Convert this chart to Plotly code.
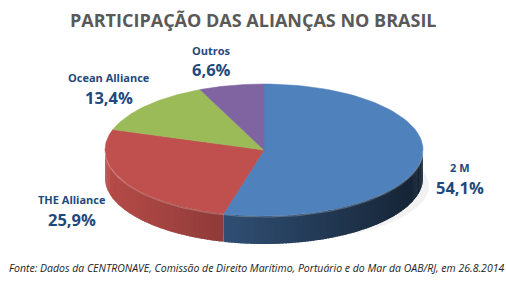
import numpy as np
import plotly.graph_objects as go

# ---- data ----
categories = ["2 M", "THE Alliance", "Ocean Alliance", "Outros"]
shares = [54.1, 25.9, 13.4, 6.6]
labels_pct = ["54,1%", "25,9%", "13,4%", "6,6%"]
colors = ["#4F81BD", "#C0504D", "#9BBB59", "#8064A2"]

title = "PARTICIPAÇÃO DAS ALIANÇAS NO BRASIL"
source = "Fonte: Dados da CENTRONAVE, Comissão de Direito Marítimo, Portuário e do Mar da OAB/RJ, em 26.8.2014"

# ---- geometry of the tilted pie (pixel space) ----
W, H = 506, 290
cx, cy, a, b, depth = 264, 150, 159, 66, 28


def pt(t):
    return cx + a * np.sin(t), cy - b * np.cos(t)


def hex2rgb(h):
    h = h.lstrip("#")
    return [int(h[i:i + 2], 16) for i in (0, 2, 4)]


def shade(h, f):
    r, g, bb = hex2rgb(h)
    return "rgb(%d,%d,%d)" % (min(255, r * f), min(255, g * f), min(255, bb * f))


fig = go.Figure()

# soft shadow
for k, op in [(1.0, 0.05), (0.93, 0.06), (0.86, 0.07)]:
    tt = np.linspace(0, 2 * np.pi, 120)
    fig.add_trace(go.Scatter(
        x=cx + 6 + a * k * np.sin(tt), y=cy + depth + 8 + b * 0.85 * k * np.cos(tt),
        fill="toself", mode="lines", line=dict(width=0),
        fillcolor="rgba(0,0,0,%.2f)" % op, hoverinfo="skip", showlegend=False))

total = sum(shares)
bounds = np.concatenate([[0], np.cumsum(shares) / total * 2 * np.pi])

# side walls (front half: t in [pi/2, 3pi/2])
for i, col in enumerate(colors):
    t0, t1 = max(bounds[i], np.pi / 2), min(bounds[i + 1], 3 * np.pi / 2)
    if t1 <= t0:
        continue
    n = max(2, int((t1 - t0) / 0.02))
    ts = np.linspace(t0, t1, n + 1)
    base_f = 0.95 if i != 0 else 0.82
    for j in range(n):
        ta = ts[j]
        tb = min(ts[j + 1] + 0.012, t1)
        seg = np.linspace(ta, tb, 4)
        xs, ys = pt(seg)
        u = ((xs[0] + xs[-1]) / 2 - (cx - a)) / (2 * a)
        f = base_f - 0.55 * u
        fig.add_trace(go.Scatter(
            x=np.concatenate([xs, xs[::-1], xs[:1]]),
            y=np.concatenate([ys, ys[::-1] + depth, ys[:1]]),
            fill="toself", mode="lines", line=dict(width=0),
            fillcolor=shade(col, f), hoverinfo="skip", showlegend=False))

# top faces
for i, col in enumerate(colors):
    ts = np.linspace(bounds[i], bounds[i + 1], 80)
    xs, ys = pt(ts)
    fig.add_trace(go.Scatter(
        x=np.concatenate([[cx], xs, [cx]]), y=np.concatenate([[cy], ys, [cy]]),
        fill="toself", mode="lines", line=dict(width=0.5, color=col),
        fillcolor=col, hoverinfo="text", text=categories[i], showlegend=False))

# rim highlight on front edge
ts = np.linspace(np.pi / 2, 3 * np.pi / 2, 100)
xs, ys = pt(ts)
fig.add_trace(go.Scatter(x=xs, y=ys + 1, mode="lines",
                         line=dict(width=1.2, color="rgba(255,255,255,0.22)"),
                         hoverinfo="skip", showlegend=False))

# ---- labels ----
lab_pos = [(460, 167, 187), (72, 199, 219), (109, 77, 97), (211, 50, 69)]
ann = []
for (x, y1, y2), name, pct in zip(lab_pos, categories, labels_pct):
    ann.append(dict(x=x, y=y1, text="<b>%s</b>" % name, showarrow=False,
                    font=dict(family="Open Sans", size=11, color="#1F497D"),
                    xanchor="center", yanchor="middle"))
    ann.append(dict(x=x, y=y2, text="<b>%s</b>" % pct, showarrow=False,
                    font=dict(family="Open Sans", size=16.5, color="#1F497D"),
                    xanchor="center", yanchor="middle"))

ann.append(dict(x=253, y=20, text="<b>%s</b>" % title, showarrow=False,
                font=dict(family="Open Sans", size=18, color="#595959"),
                xanchor="center", yanchor="middle"))
ann.append(dict(x=256, y=268, text="<i>%s</i>" % source, showarrow=False,
                font=dict(family="Open Sans", size=10.5, color="#222222"),
                xanchor="center", yanchor="middle"))

fig.update_layout(
    width=W, height=H, margin=dict(l=0, r=0, t=0, b=0),
    paper_bgcolor="white", plot_bgcolor="white",
    xaxis=dict(range=[0, W], visible=False, fixedrange=True),
    yaxis=dict(range=[H, 0], visible=False, fixedrange=True),
    annotations=ann, showlegend=False,
)

fig.write_html("out.html")
